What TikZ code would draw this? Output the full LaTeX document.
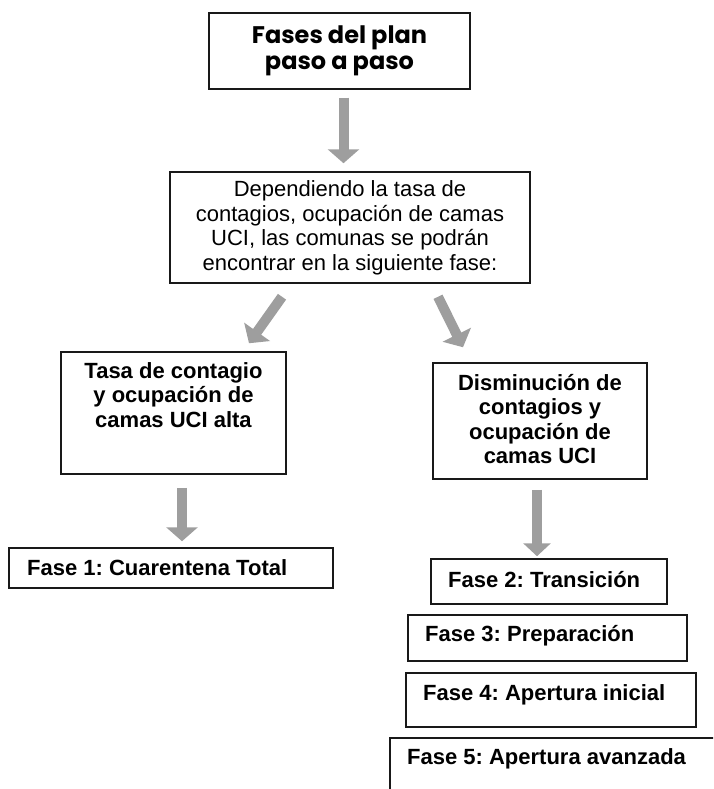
\documentclass[tikz,border=0pt]{standalone}
\usepackage{fontspec}
\setmainfont{Liberation Sans}
\newfontfamily\titlefont{Poppins}
\usetikzlibrary{arrows.meta}
\definecolor{arrowgray}{RGB}{158,158,158}
\definecolor{edge}{RGB}{25,25,25}
\frenchspacing
\begin{document}
\begin{tikzpicture}[x=1pt,y=-1pt,
  box/.style={draw=edge, line width=1.5pt, inner sep=0pt},
  bodytxt/.style={font=\fontsize{22}{24.5}\selectfont, inner sep=0pt, align=center},
  boldtxt/.style={font=\bfseries\fontsize{22}{24.5}\selectfont, inner sep=0pt, align=center},
  fasetxt/.style={font=\bfseries\fontsize{22}{24}\selectfont, inner sep=0pt, anchor=base west},
  barrow/.style={draw=arrowgray, line width=10pt, -{Triangle[length=14pt,width=31pt]}}
]
\useasboundingbox (0,0) rectangle (713,789);
\clip (0,0) rectangle (713,789);

% boxes
\node[box, minimum width=261pt, minimum height=76pt, align=center,
      font=\titlefont\bfseries\fontsize{24}{26}\selectfont] (t) at (339.5,51)
  {Fases del plan\\paso a paso};
\node[box, minimum width=360pt, minimum height=111pt] (b2) at (350,227.5) {};
\node[bodytxt] at (350,228) {Dependiendo la tasa de\\contagios, ocupación de camas\\UCI, las comunas se podrán\\encontrar en la siguiente fase:};

\node[box, minimum width=225pt, minimum height=122pt] (b3) at (173.5,413) {};
\node[boldtxt, anchor=north] at (173.5,362) {Tasa de contagio\\y ocupación de\\camas UCI alta};

\node[box, minimum width=214pt, minimum height=116pt] (b5) at (540,421) {};
\node[boldtxt] at (540,419) {Disminución de\\contagios y\\ocupación de\\camas UCI};

\node[box, minimum width=324pt, minimum height=40pt] (f1) at (171,568) {};
\node[fasetxt] at (27,575) {Fase 1: Cuarentena Total};

\node[box, minimum width=236pt, minimum height=45pt] (f2) at (549,581.5) {};
\node[fasetxt] at (448,587) {Fase 2: Transición};

\node[box, minimum width=279pt, minimum height=46pt] (f3) at (547.5,638) {};
\node[fasetxt] at (425,641) {Fase 3: Preparación};

\node[box, minimum width=290pt, minimum height=54pt] (f4) at (551,700) {};
\node[fasetxt] at (423,700) {Fase 4: Apertura inicial};

\node[box, minimum width=350pt, minimum height=72pt] (f5) at (565,774) {};
\node[fasetxt] at (407,764) {Fase 5: Apertura avanzada};

% arrows
\draw[barrow] ([xshift=4pt,yshift=-8pt]t.south) -- ([xshift=-6.5pt,yshift=8pt]b2.north);
\draw[barrow] ([xshift=-68pt,yshift=-13pt]b2.south) -- ([xshift=75.5pt,yshift=8pt]b3.north);
\draw[barrow] ([xshift=88pt,yshift=-13pt]b2.south) -- ([xshift=-77pt,yshift=15pt]b5.north);
\draw[barrow] ([xshift=8.5pt,yshift=-13pt]b3.south) -- ([xshift=11pt,yshift=6pt]f1.north);
\draw[barrow, -{Triangle[length=13pt,width=27pt]}] ([xshift=-3pt,yshift=-10pt]b5.south) -- ([xshift=-12pt,yshift=2pt]f2.north);
\end{tikzpicture}
\end{document}
